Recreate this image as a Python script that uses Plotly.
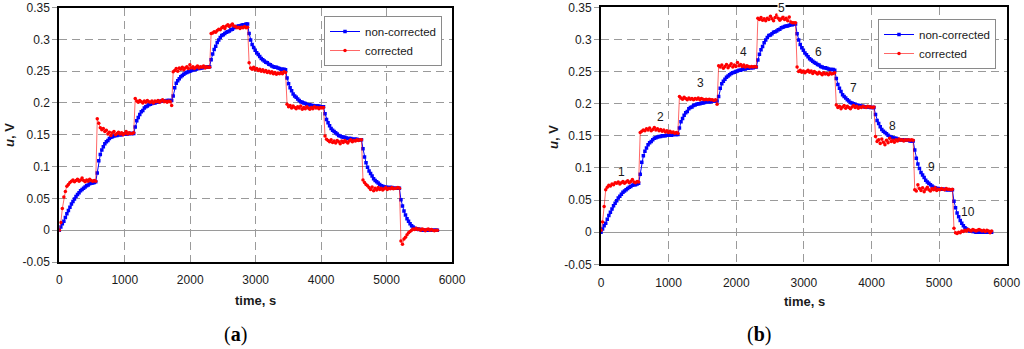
import plotly.graph_objects as go

# ---------------- data ----------------
step_length = 580.0      # s, duration of each step
sample_dt = 23.2         # s, sampling interval

# non-corrected signal (same in both panels), one list per step
noncorr_steps = [
    [0.000, 0.005, 0.010, 0.014, 0.020, 0.026, 0.031, 0.036, 0.041, 0.045, 0.049, 0.053, 0.056, 0.059, 0.062, 0.064, 0.066, 0.068, 0.070, 0.071, 0.073, 0.074, 0.074, 0.075, 0.076],
    [0.090, 0.109, 0.119, 0.126, 0.131, 0.136, 0.139, 0.141, 0.144, 0.146, 0.147, 0.148, 0.149, 0.149, 0.150, 0.150, 0.150, 0.151, 0.151, 0.151, 0.151, 0.152, 0.152, 0.152, 0.152],
    [0.162, 0.172, 0.177, 0.182, 0.186, 0.188, 0.192, 0.194, 0.195, 0.197, 0.198, 0.199, 0.200, 0.200, 0.201, 0.201, 0.202, 0.203, 0.203, 0.203, 0.203, 0.204, 0.204, 0.204, 0.204],
    [0.211, 0.224, 0.231, 0.235, 0.238, 0.241, 0.243, 0.245, 0.247, 0.248, 0.249, 0.250, 0.251, 0.252, 0.252, 0.253, 0.254, 0.254, 0.255, 0.255, 0.256, 0.256, 0.256, 0.257, 0.257],
    [0.268, 0.277, 0.284, 0.289, 0.295, 0.299, 0.303, 0.306, 0.307, 0.309, 0.311, 0.312, 0.313, 0.315, 0.316, 0.318, 0.319, 0.320, 0.321, 0.321, 0.322, 0.323, 0.323, 0.324, 0.324],
    [0.309, 0.299, 0.292, 0.287, 0.283, 0.279, 0.276, 0.273, 0.270, 0.268, 0.266, 0.264, 0.263, 0.261, 0.260, 0.258, 0.257, 0.256, 0.256, 0.255, 0.254, 0.253, 0.253, 0.253, 0.252],
    [0.239, 0.230, 0.224, 0.219, 0.214, 0.211, 0.209, 0.206, 0.204, 0.202, 0.201, 0.200, 0.199, 0.198, 0.197, 0.197, 0.196, 0.196, 0.195, 0.195, 0.195, 0.195, 0.194, 0.194, 0.194],
    [0.183, 0.174, 0.169, 0.164, 0.160, 0.157, 0.155, 0.153, 0.151, 0.149, 0.148, 0.147, 0.146, 0.146, 0.145, 0.144, 0.144, 0.144, 0.143, 0.143, 0.143, 0.143, 0.142, 0.142, 0.142],
    [0.128, 0.115, 0.106, 0.099, 0.093, 0.089, 0.085, 0.081, 0.078, 0.076, 0.074, 0.072, 0.070, 0.069, 0.068, 0.068, 0.067, 0.067, 0.067, 0.067, 0.066, 0.066, 0.066, 0.066, 0.066],
    [0.048, 0.038, 0.030, 0.024, 0.018, 0.014, 0.010, 0.007, 0.005, 0.003, 0.002, 0.002, 0.001, 0.001, 0.000, 0.000, 0.000, 0.000, 0.000, 0.000, 0.000, 0.000, 0.000, 0.000, 0.000],
]

# corrected signal, panel (a)
corr_a_steps = [
    [0.000, 0.012, 0.034, 0.052, 0.061, 0.069, 0.072, 0.075, 0.077, 0.079, 0.076, 0.078, 0.080, 0.077, 0.079, 0.082, 0.078, 0.076, 0.079, 0.077, 0.080, 0.078, 0.077, 0.078, 0.077],
    [0.175, 0.168, 0.161, 0.158, 0.160, 0.155, 0.157, 0.151, 0.154, 0.149, 0.153, 0.155, 0.150, 0.152, 0.154, 0.151, 0.153, 0.150, 0.152, 0.155, 0.151, 0.153, 0.152, 0.152, 0.153],
    [0.207, 0.203, 0.201, 0.204, 0.202, 0.200, 0.203, 0.201, 0.204, 0.202, 0.201, 0.203, 0.200, 0.203, 0.202, 0.204, 0.201, 0.203, 0.205, 0.202, 0.203, 0.201, 0.203, 0.202, 0.196],
    [0.249, 0.251, 0.254, 0.250, 0.255, 0.253, 0.256, 0.252, 0.255, 0.257, 0.254, 0.260, 0.255, 0.257, 0.254, 0.256, 0.258, 0.255, 0.257, 0.256, 0.258, 0.255, 0.257, 0.256, 0.256],
    [0.309, 0.310, 0.312, 0.311, 0.314, 0.316, 0.315, 0.318, 0.320, 0.317, 0.321, 0.323, 0.320, 0.322, 0.324, 0.321, 0.320, 0.318, 0.319, 0.317, 0.319, 0.318, 0.320, 0.318, 0.319],
    [0.263, 0.255, 0.253, 0.256, 0.252, 0.254, 0.251, 0.253, 0.250, 0.252, 0.249, 0.251, 0.248, 0.250, 0.247, 0.249, 0.246, 0.248, 0.245, 0.247, 0.246, 0.248, 0.246, 0.249, 0.248],
    [0.198, 0.194, 0.196, 0.192, 0.195, 0.193, 0.191, 0.194, 0.192, 0.195, 0.190, 0.193, 0.191, 0.194, 0.192, 0.190, 0.193, 0.191, 0.194, 0.192, 0.193, 0.191, 0.193, 0.192, 0.193],
    [0.148, 0.143, 0.141, 0.139, 0.142, 0.138, 0.140, 0.137, 0.141, 0.139, 0.136, 0.140, 0.138, 0.141, 0.139, 0.137, 0.140, 0.142, 0.139, 0.141, 0.140, 0.142, 0.141, 0.142, 0.142],
    [0.079, 0.075, 0.072, 0.070, 0.067, 0.064, 0.068, 0.062, 0.066, 0.063, 0.067, 0.064, 0.066, 0.063, 0.065, 0.067, 0.064, 0.066, 0.065, 0.067, 0.065, 0.066, 0.066, 0.067, 0.066],
    [-0.017, -0.022, -0.014, -0.011, -0.007, -0.004, -0.002, 0.000, 0.002, 0.001, 0.003, 0.001, 0.002, 0.000, 0.002, 0.001, -0.001, 0.001, 0.002, 0.000, 0.001, 0.000, -0.001, 0.000, 0.000],
]

# corrected signal, panel (b)
corr_b_steps = [
    [0.003, 0.016, 0.040, 0.066, 0.070, 0.073, 0.072, 0.075, 0.074, 0.077, 0.076, 0.078, 0.075, 0.077, 0.079, 0.076, 0.078, 0.080, 0.077, 0.079, 0.082, 0.078, 0.077, 0.079, 0.078],
    [0.155, 0.157, 0.159, 0.158, 0.161, 0.159, 0.162, 0.158, 0.160, 0.163, 0.159, 0.161, 0.158, 0.160, 0.157, 0.159, 0.156, 0.158, 0.155, 0.157, 0.155, 0.156, 0.154, 0.155, 0.154],
    [0.211, 0.209, 0.207, 0.210, 0.208, 0.206, 0.209, 0.207, 0.208, 0.206, 0.208, 0.207, 0.209, 0.206, 0.208, 0.207, 0.206, 0.207, 0.206, 0.207, 0.206, 0.206, 0.205, 0.206, 0.199],
    [0.259, 0.257, 0.260, 0.255, 0.258, 0.261, 0.256, 0.259, 0.262, 0.257, 0.260, 0.258, 0.264, 0.259, 0.261, 0.258, 0.260, 0.257, 0.259, 0.258, 0.257, 0.258, 0.257, 0.258, 0.257],
    [0.333, 0.331, 0.334, 0.330, 0.332, 0.329, 0.333, 0.331, 0.336, 0.332, 0.329, 0.334, 0.338, 0.333, 0.330, 0.332, 0.335, 0.331, 0.333, 0.329, 0.335, 0.327, 0.326, 0.326, 0.326],
    [0.257, 0.250, 0.252, 0.249, 0.251, 0.248, 0.250, 0.252, 0.249, 0.251, 0.247, 0.250, 0.248, 0.246, 0.249, 0.247, 0.245, 0.248, 0.246, 0.247, 0.245, 0.248, 0.246, 0.247, 0.248],
    [0.198, 0.194, 0.196, 0.192, 0.195, 0.197, 0.193, 0.196, 0.194, 0.192, 0.195, 0.197, 0.194, 0.196, 0.193, 0.195, 0.194, 0.196, 0.195, 0.194, 0.196, 0.195, 0.195, 0.194, 0.195],
    [0.149, 0.141, 0.144, 0.138, 0.145, 0.140, 0.136, 0.143, 0.139, 0.146, 0.141, 0.143, 0.140, 0.144, 0.142, 0.145, 0.143, 0.144, 0.142, 0.144, 0.143, 0.144, 0.143, 0.144, 0.143],
    [0.066, 0.064, 0.074, 0.068, 0.065, 0.069, 0.063, 0.067, 0.070, 0.066, 0.064, 0.068, 0.066, 0.069, 0.065, 0.067, 0.066, 0.068, 0.067, 0.066, 0.068, 0.067, 0.067, 0.066, 0.067],
    [0.006, -0.001, -0.002, 0.000, -0.001, 0.002, 0.001, 0.003, 0.002, 0.004, 0.003, 0.002, 0.004, 0.003, 0.002, 0.003, 0.004, 0.003, 0.002, 0.003, 0.001, 0.003, 0.002, -0.001, 0.002],
]

# step number labels of panel (b)
step_labels = ["1", "2", "3", "4", "5", "6", "7", "8", "9", "10"]
step_label_time = [300, 873, 1469, 2111, 2663, 3215, 3733, 4310, 4882, 5434]
step_label_u = [0.093, 0.179, 0.232, 0.281, 0.349, 0.281, 0.224, 0.166, 0.102, 0.031]

x_tickvals = [0, 1000, 2000, 3000, 4000, 5000, 6000]
x_ticktext = ["0", "1000", "2000", "3000", "4000", "5000", "6000"]
y_tickvals = [-0.05, 0, 0.05, 0.1, 0.15, 0.2, 0.25, 0.3, 0.35]
y_ticktext = ["-0.05", "0", "0.05", "0.1", "0.15", "0.2", "0.25", "0.3", "0.35"]


def flatten(steps):
    t, v = [], []
    for s, vals in enumerate(steps):
        for j, val in enumerate(vals):
            t.append(s * step_length + j * sample_dt)
            v.append(val)
    return t, v


t_nc, u_nc = flatten(noncorr_steps)
t_a, u_a = flatten(corr_a_steps)
t_b, u_b = flatten(corr_b_steps)

# ---------------- figure ----------------
W, H = 1024, 349
BLUE = "#0000FF"
RED = "#FF0000"
FONT = "Liberation Sans, Arial, sans-serif"

fig = go.Figure()


def add_pair(xa, ya, legend, t_corr, u_corr):
    fig.add_trace(go.Scatter(
        x=t_nc, y=u_nc, mode="lines+markers", name="non-corrected",
        xaxis=xa, yaxis=ya, legend=legend,
        line=dict(color=BLUE, width=1),
        marker=dict(symbol="square", size=3.5, color=BLUE),
    ))
    fig.add_trace(go.Scatter(
        x=t_corr, y=u_corr, mode="lines+markers", name="corrected",
        xaxis=xa, yaxis=ya, legend=legend,
        line=dict(color=RED, width=0.6),
        marker=dict(symbol="circle", size=3.5, color=RED),
    ))


add_pair("x", "y", "legend", t_a, u_a)
add_pair("x2", "y2", "legend2", t_b, u_b)


def px_x(p):
    return p / W


def px_y(p):
    return 1 - p / H


xaxis_common = dict(
    range=[0, 6000], tickvals=x_tickvals, ticktext=x_ticktext,
    showgrid=True, gridcolor="#9a9a9a", gridwidth=1, griddash="8px,5px",
    showline=True, linecolor="black", linewidth=2, mirror=True,
    ticks="outside", ticklen=6, tickcolor="rgba(0,0,0,0)",
    zeroline=False, automargin=False,
    tickfont=dict(family=FONT, size=12, color="#1a1a1a"),
)
yaxis_common = dict(
    range=[-0.05, 0.35], tickvals=y_tickvals, ticktext=y_ticktext,
    showgrid=True, gridcolor="#9a9a9a", gridwidth=1, griddash="8px,5px",
    showline=True, linecolor="black", linewidth=2, mirror=True,
    ticks="outside", ticklen=5, tickcolor="#9a9a9a",
    zeroline=True, zerolinecolor="#9a9a9a", zerolinewidth=1,
    automargin=False,
    tickfont=dict(family=FONT, size=12, color="#1a1a1a"),
)

legend_common = dict(
    bgcolor="white", bordercolor="#8a8a8a", borderwidth=1,
    font=dict(family=FONT, size=11.5, color="#1a1a1a"),
    tracegroupgap=0,
)

fig.update_layout(
    width=W, height=H,
    margin=dict(l=0, r=0, t=0, b=0, autoexpand=False),
    paper_bgcolor="white", plot_bgcolor="white",
    xaxis=dict(domain=[px_x(59.3), px_x(452)], anchor="y", **xaxis_common),
    yaxis=dict(domain=[px_y(262), px_y(7.5)], anchor="x", **yaxis_common),
    xaxis2=dict(domain=[px_x(601), px_x(1006.7)], anchor="y2", **xaxis_common),
    yaxis2=dict(domain=[px_y(264.3), px_y(7.3)], anchor="x2", **yaxis_common),
    legend=dict(x=px_x(442), xanchor="right", y=px_y(16), yanchor="top", **legend_common),
    legend2=dict(x=px_x(996), xanchor="right", y=px_y(19), yanchor="top", **legend_common),
    showlegend=True,
)

annotations = []
# axis titles
for cx, cy in [(255.7, 300), (804, 301)]:
    annotations.append(dict(
        x=px_x(cx), y=px_y(cy), xref="paper", yref="paper",
        text="<b>time, s</b>", showarrow=False,
        font=dict(family=FONT, size=13, color="#1a1a1a"),
        xanchor="center", yanchor="middle",
    ))
for cx, cy in [(9, 135), (553, 137)]:
    annotations.append(dict(
        x=px_x(cx), y=px_y(cy), xref="paper", yref="paper",
        text="<b><i>u</i>, V</b>", showarrow=False, textangle=-90,
        font=dict(family=FONT, size=13, color="#1a1a1a"),
        xanchor="center", yanchor="middle",
    ))
# panel letters
for cx, letter in [(235, "a"), (759, "b")]:
    annotations.append(dict(
        x=px_x(cx), y=px_y(334), xref="paper", yref="paper",
        text="(<b>" + letter + "</b>)", showarrow=False,
        font=dict(family="Liberation Serif, Times New Roman, serif", size=20, color="black"),
        xanchor="center", yanchor="middle",
    ))
# step numbers in panel (b)
for txt, tx, uy in zip(step_labels, step_label_time, step_label_u):
    annotations.append(dict(
        x=tx, y=uy, xref="x2", yref="y2", text=txt, showarrow=False,
        font=dict(family=FONT, size=12, color="#1a1a1a"),
        bgcolor="white" if txt == "5" else "rgba(0,0,0,0)",
        borderpad=0,
        xanchor="center", yanchor="middle",
    ))
fig.update_layout(annotations=annotations)

fig.write_html(
    "out.html",
    config={"displayModeBar": False},
    post_script="document.body.style.margin='0';document.body.style.overflow='hidden';",
)
